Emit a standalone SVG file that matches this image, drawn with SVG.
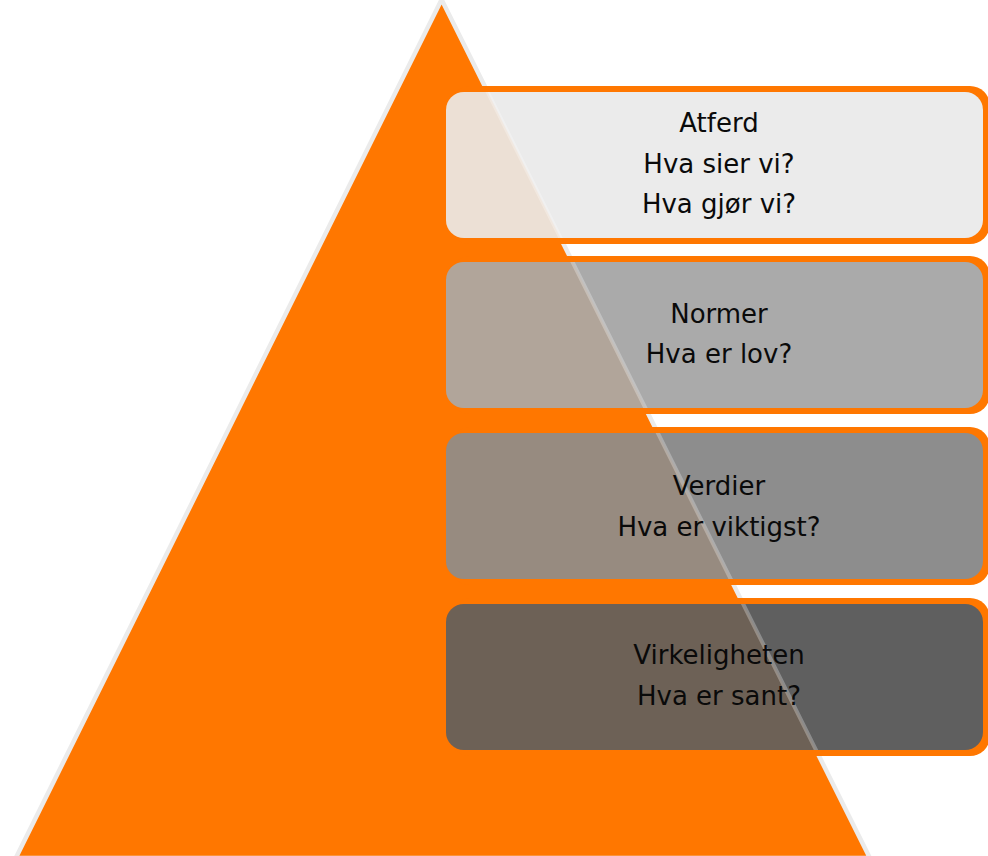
<svg xmlns="http://www.w3.org/2000/svg" xmlns:xlink="http://www.w3.org/1999/xlink" width="988" height="856" viewBox="0 0 988 856">
  <style>
    .frame { fill: #ff7700; }
    .lbl { font-family: "DejaVu Sans", Verdana, sans-serif; font-size: 26px; fill: #0a0a0a; text-anchor: middle; }
    .tri { fill: #ff7700; stroke: #ebebeb; stroke-width: 4.5; stroke-linejoin: round; }
    .tint { fill: #ff7700; fill-opacity: 0.09; stroke: #ffffff; stroke-opacity: 0.28; stroke-width: 4; stroke-linejoin: round; }
  </style>
  <defs>
    <polygon id="triShape" points="441.6,-0.4 869.9,858 15.8,858"/>
    <rect id="b1" x="446" y="92" width="537" height="146" rx="18"/>
    <rect id="b2" x="446" y="262" width="537" height="146" rx="18"/>
    <rect id="b3" x="446" y="433" width="537" height="146" rx="18"/>
    <rect id="b4" x="446" y="604" width="537" height="146" rx="18"/>
    <clipPath id="c1"><use xlink:href="#b1"/></clipPath>
    <clipPath id="c2"><use xlink:href="#b2"/></clipPath>
    <clipPath id="c3"><use xlink:href="#b3"/></clipPath>
    <clipPath id="c4"><use xlink:href="#b4"/></clipPath>
  </defs>
  <rect width="988" height="856" fill="#ffffff"/>

  <g id="pyramid">
    <use xlink:href="#triShape" class="tri"/>
  </g>

  <g id="node-atferd">
    <rect class="frame" x="450" y="86" width="540" height="158" rx="20"/>
    <use xlink:href="#b1" fill="#ebebeb"/>
    <use xlink:href="#triShape" class="tint" clip-path="url(#c1)"/>
    <text class="lbl" x="719" y="132">Atferd</text>
    <text class="lbl" x="719" y="173">Hva sier vi?</text>
    <text class="lbl" x="719" y="213">Hva gjør vi?</text>
  </g>

  <g id="node-normer">
    <rect class="frame" x="450" y="256" width="540" height="158" rx="20"/>
    <use xlink:href="#b2" fill="#aaaaaa"/>
    <use xlink:href="#triShape" class="tint" clip-path="url(#c2)"/>
    <text class="lbl" x="719" y="323">Normer</text>
    <text class="lbl" x="719" y="363">Hva er lov?</text>
  </g>

  <g id="node-verdier">
    <rect class="frame" x="450" y="427" width="540" height="158" rx="20"/>
    <use xlink:href="#b3" fill="#8d8d8d"/>
    <use xlink:href="#triShape" class="tint" clip-path="url(#c3)"/>
    <text class="lbl" x="719" y="495">Verdier</text>
    <text class="lbl" x="719" y="536">Hva er viktigst?</text>
  </g>

  <g id="node-virkeligheten">
    <rect class="frame" x="450" y="598" width="540" height="158" rx="20"/>
    <use xlink:href="#b4" fill="#5f5f5f"/>
    <use xlink:href="#triShape" class="tint" clip-path="url(#c4)"/>
    <text class="lbl" x="719" y="664">Virkeligheten</text>
    <text class="lbl" x="719" y="705">Hva er sant?</text>
  </g>
</svg>
